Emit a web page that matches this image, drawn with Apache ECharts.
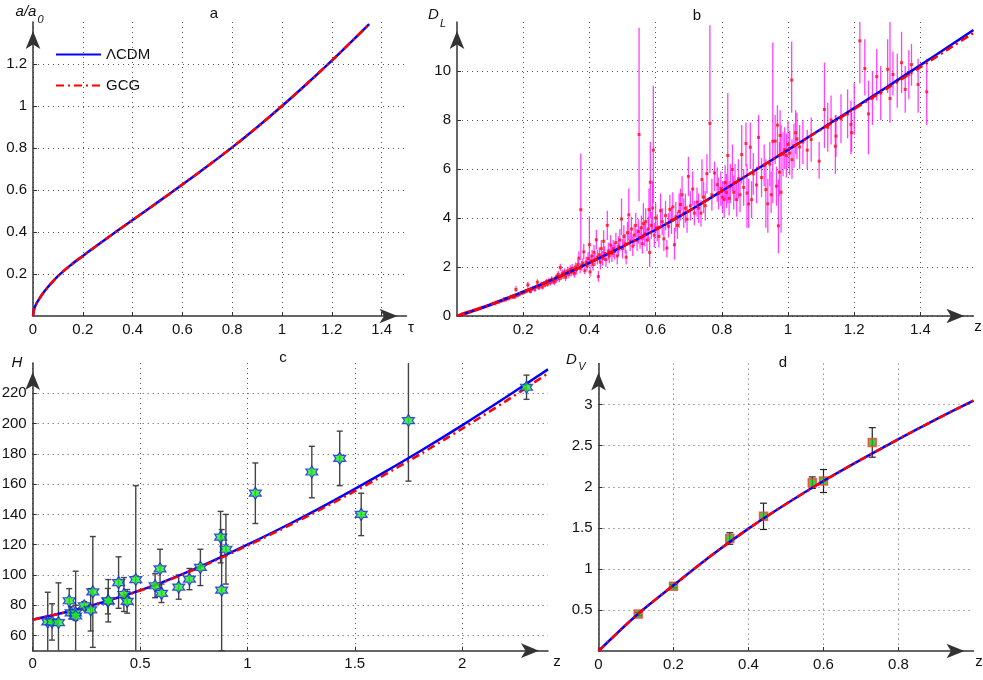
<!DOCTYPE html>
<html>
<head>
<meta charset="utf-8">
<script src="https://cdn.jsdelivr.net/npm/echarts@6/dist/echarts.min.js"></script>
<style>
  html, body { margin: 0; background: #fff; }
  #chart { width: 983px; height: 680px; }
</style>
</head>
<body>
<div id="chart"></div>
<script>
const FONT = '"Liberation Sans", Arial, sans-serif';

// ---- panel a: scale factor a/a0 vs tau
const aTau  = [0, 0.005, 0.01, 0.02, 0.04, 0.06, 0.08, 0.1, 0.15, 0.2, 0.25, 0.3, 0.35, 0.4, 0.5, 0.6, 0.7, 0.8, 0.9, 1.0, 1.1, 1.2, 1.3, 1.35];
const aLcdm = [0, 0.035, 0.05, 0.072, 0.108, 0.138, 0.165, 0.19, 0.241, 0.286, 0.33, 0.373, 0.415, 0.457, 0.541, 0.626, 0.713, 0.803, 0.899, 1.0, 1.106, 1.216, 1.331, 1.39];
const aGcg  = [0, 0.035, 0.05, 0.072, 0.108, 0.138, 0.165, 0.19, 0.241, 0.286, 0.33, 0.373, 0.415, 0.457, 0.541, 0.626, 0.713, 0.803, 0.899, 1.0, 1.106, 1.216, 1.331, 1.39];
const aTicksX = [0, 0.2, 0.4, 0.6, 0.8, 1, 1.2, 1.4];
const aTicksY = [0.2, 0.4, 0.6, 0.8, 1, 1.2];

// ---- panel b: luminosity distance, SN Ia
const bZ    = [0, 0.05, 0.1, 0.2, 0.3, 0.4, 0.5, 0.6, 0.7, 0.8, 0.9, 1.0, 1.1, 1.2, 1.3, 1.4, 1.5, 1.56];
const bLcdm = [0, 0.22, 0.46, 0.99, 1.56, 2.17, 2.83, 3.52, 4.28, 5.1, 5.94, 6.78, 7.63, 8.49, 9.36, 10.24, 11.13, 11.67];
const bGcg  = [0, 0.22, 0.46, 0.99, 1.56, 2.17, 2.83, 3.52, 4.28, 5.1, 5.94, 6.78, 7.61, 8.45, 9.3, 10.16, 11.03, 11.55];
const bTicksX = [0.2, 0.4, 0.6, 0.8, 1, 1.2, 1.4];
const bTicksY = [0, 2, 4, 6, 8, 10];

const snZ = [
  0.012,0.015,0.017,0.019,0.021,0.023,0.025,0.026,0.028,0.030,
  0.032,0.034,0.036,0.038,0.040,0.043,0.046,0.050,0.053,0.056,
  0.060,0.064,0.068,0.072,0.076,0.080,0.085,0.090,0.095,0.100,
  0.105,0.110,0.115,0.120,0.125,0.130,0.135,0.140,0.143,0.147,
  0.150,0.155,0.160,0.165,0.170,0.175,0.178,0.182,0.188,0.195,
  0.200,0.205,0.210,0.214,0.218,0.222,0.226,0.230,0.235,0.240,
  0.243,0.247,0.250,0.255,0.258,0.262,0.266,0.270,0.274,0.278,
  0.282,0.286,0.290,0.294,0.298,0.300,0.303,0.306,0.309,0.312,
  0.315,0.318,0.321,0.325,0.328,0.331,0.335,0.338,0.342,0.345,
  0.348,0.351,0.355,0.358,0.361,0.365,0.368,0.372,0.374,0.377,
  0.380,0.383,0.386,0.390,0.393,0.396,0.400,0.402,0.405,0.408,
  0.411,0.414,0.417,0.421,0.424,0.427,0.430,0.433,0.436,0.440,
  0.443,0.446,0.450,0.454,0.457,0.460,0.464,0.468,0.472,0.476,
  0.480,0.484,0.488,0.492,0.497,0.500,0.504,0.508,0.511,0.515,
  0.519,0.523,0.527,0.531,0.535,0.540,0.544,0.548,0.550,0.553,
  0.557,0.560,0.563,0.567,0.570,0.574,0.578,0.580,0.582,0.584,
  0.587,0.591,0.593,0.596,0.600,0.605,0.610,0.615,0.620,0.625,
  0.630,0.634,0.639,0.643,0.648,0.652,0.657,0.661,0.666,0.671,
  0.675,0.680,0.685,0.690,0.695,0.699,0.705,0.712,0.717,0.725,
  0.730,0.737,0.740,0.745,0.750,0.755,0.764,0.770,0.778,0.786,
  0.790,0.797,0.802,0.807,0.810,0.814,0.818,0.822,0.826,0.832,
  0.836,0.840,0.845,0.850,0.855,0.860,0.866,0.873,0.876,0.881,
  0.886,0.890,0.895,0.905,0.911,0.920,0.928,0.933,0.939,0.945,
  0.949,0.954,0.961,0.965,0.968,0.971,0.974,0.976,0.979,0.985,
  0.990,0.995,1.000,1.005,1.011,1.012,1.018,1.023,1.027,1.035,
  1.045,1.058,1.070,1.094,1.110,1.120,1.130,1.143,1.145,1.160,
  1.180,1.190,1.192,1.200,1.217,1.232,1.243,1.255,1.268,1.280,
  1.301,1.308,1.317,1.330,1.343,1.354,1.365,1.373,1.393,1.419
];
const snD = [
  0.05,0.07,0.075,0.085,0.09,0.10,0.115,0.11,0.125,0.13,
  0.145,0.15,0.16,0.165,0.18,0.19,0.205,0.225,0.24,0.245,
  0.27,0.285,0.30,0.33,0.34,0.36,0.38,0.40,0.43,0.45,
  0.48,0.52,0.50,0.57,0.56,0.60,0.62,0.64,0.70,0.66,
  0.72,0.70,0.74,0.80,0.76,0.78,1.08,0.83,0.87,0.93,
  0.95,0.98,1.02,1.27,1.05,1.00,1.10,1.14,1.08,1.20,
  1.38,1.15,1.22,1.30,1.18,1.33,1.26,1.40,1.30,1.45,
  1.36,1.50,1.42,1.38,1.55,1.48,1.62,1.70,1.52,1.98,
  1.60,1.75,1.66,1.80,1.58,1.72,1.85,1.70,1.90,1.78,
  1.95,1.82,1.74,2.00,1.88,2.10,2.36,1.95,4.34,2.05,
  2.15,2.62,1.85,2.20,2.05,2.35,2.91,1.80,2.25,2.45,
  2.10,2.60,2.30,3.11,2.40,1.61,2.50,2.20,2.75,2.35,
  3.05,2.55,2.30,3.70,2.65,2.45,2.90,2.55,2.75,2.63,
  3.00,2.45,2.85,3.10,3.96,2.75,3.25,2.95,2.40,3.40,
  4.13,3.05,3.55,2.85,3.30,3.70,3.10,3.45,7.41,3.20,
  3.60,2.95,3.77,3.35,3.85,3.10,3.55,4.34,2.59,5.46,
  3.70,4.41,6.77,3.30,4.00,3.60,3.25,4.30,3.85,3.15,
  4.10,2.77,3.66,4.35,3.90,4.45,2.91,4.05,3.70,4.27,
  4.55,4.95,4.20,4.40,3.95,5.70,4.50,5.18,4.20,4.65,
  4.40,4.20,5.57,4.85,4.50,5.81,7.86,4.95,5.84,5.36,
  5.00,5.20,4.85,4.75,5.45,5.05,6.55,4.80,5.30,5.98,
  5.05,5.45,4.75,5.60,4.95,6.59,5.25,7.04,5.02,4.57,
  6.89,4.75,5.80,5.35,7.29,5.65,6.15,5.16,4.58,6.20,
  4.95,7.13,7.14,5.30,7.79,3.68,5.87,7.37,5.05,6.60,
  6.79,6.55,7.00,6.65,9.63,6.38,6.95,7.48,7.23,6.90,
  7.10,6.77,7.20,6.32,8.43,7.70,8.00,6.93,7.34,8.05,
  8.25,7.82,7.48,8.45,11.23,10.10,8.25,8.90,9.77,9.10,
  10.07,8.88,9.86,9.60,10.34,9.25,9.85,10.26,9.45,9.15
];
const snErrDn = [
  .01,.01,.01,.01,.01,.01,.01,.01,.01,.01,
  .01,.01,.02,.02,.02,.02,.02,.02,.02,.02,
  .02,.02,.02,.03,.03,.03,.03,.03,.03,.03,
  .04,.04,.04,.04,.04,.05,.05,.05,.05,.05,
  .05,.05,.05,.06,.06,.06,.10,.06,.06,.07,
  .07,.07,.08,.12,.08,.08,.08,.09,.09,.09,
  .12,.09,.10,.10,.10,.10,.10,.11,.11,.11,
  .12,.12,.12,.12,.13,.13,.13,.14,.14,.14,
  .14,.15,.15,.15,.15,.16,.16,.16,.17,.17,
  .17,.18,.18,.18,.19,.20,.25,.20,2.04,.20,
  .20,.30,.15,.22,.22,.25,.89,.20,.25,.25,
  .25,.30,.25,.40,.30,.21,.30,.30,.35,.30,
  .45,.30,.30,.60,.35,.30,.40,.35,.35,.33,
  .40,.35,.40,.45,.66,.40,.45,.40,.30,.45,
  1.03,.40,.50,.40,.45,.50,.45,.50,2.73,.45,
  .50,.40,.67,.50,.55,.45,.50,.74,.59,1.46,
  .55,.91,2.17,.50,.60,.55,.45,.60,.55,.50,
  .60,.37,.46,.60,.55,.60,.61,.60,.55,.67,
  .65,.65,.60,.60,.55,.80,.60,.68,.50,.60,
  .60,.55,.77,.65,.60,.81,2.02,.65,.74,.70,
  .65,.70,.65,.75,.70,.65,1.95,.70,.70,.88,
  .70,.75,.70,.80,.70,1.19,.75,.94,1.42,.97,
  .89,.75,.85,.75,1.29,.80,.85,1.56,1.18,.90,
  .75,2.53,.94,.80,1.29,1.12,.97,.87,1.65,.90,
  .79,.90,.95,.90,1.33,.78,.90,.88,.83,.90,
  .90,.77,.90,.72,1.57,1.0,1.0,1.13,.84,1.0,
  1.0,1.22,.78,1.05,1.73,1.1,1.65,1.1,.97,1.1,
  .97,.99,.86,1.1,1.24,.95,1.0,.86,1.15,1.35
];
const snErrUp = [
  .01,.01,.01,.01,.01,.01,.01,.01,.01,.01,
  .01,.01,.02,.02,.02,.02,.02,.02,.02,.02,
  .02,.02,.02,.03,.03,.03,.03,.03,.03,.03,
  .04,.04,.04,.04,.04,.05,.05,.05,.05,.05,
  .05,.05,.05,.06,.06,.06,.14,.06,.06,.07,
  .07,.07,.08,.13,.08,.08,.08,.09,.09,.09,
  .12,.09,.10,.10,.10,.10,.10,.11,.11,.11,
  .12,.12,.12,.12,.13,.13,.13,.14,.14,.15,
  .14,.15,.15,.15,.15,.16,.16,.16,.17,.17,
  .17,.18,.18,.18,.19,.20,.27,.20,2.29,.20,
  .20,.33,.15,.22,.22,.25,1.16,.20,.25,.25,
  .25,.30,.25,.40,.30,.24,.30,.30,.35,.30,
  .45,.30,.30,.60,.35,.30,.40,.35,.35,.37,
  .40,.35,.40,.45,.84,.40,.45,.40,.30,.45,
  1.07,.40,.50,.40,.45,.50,.45,.50,4.36,.45,
  .50,.40,.83,.50,.55,.45,.50,.86,.61,1.64,
  .55,1.09,2.63,.50,.60,.55,.45,.70,.55,.50,
  .60,.33,.54,.60,.55,.60,.69,.60,.55,.73,
  .65,.75,.60,.60,.55,.80,.60,.72,.50,.60,
  .60,.55,.83,.65,.60,.79,4.01,.65,.46,.70,
  .65,.70,.65,.75,.70,.75,2.55,.70,.90,1.02,
  .70,.75,.70,.80,.70,1.21,.75,.86,1.18,1.03,
  1.01,.75,.85,.75,.91,.80,.85,1.24,1.02,.90,
  .95,4.03,1.06,.80,.81,1.89,1.23,1.03,2.75,.90,
  .91,.90,.95,.90,1.57,.82,.90,.92,1.07,.90,
  .90,.83,.90,.78,1.91,1.0,1.0,1.27,.86,1.0,
  1.0,.98,.82,1.05,.77,1.2,1.35,1.1,1.13,1.1,
  1.23,3.12,.94,1.1,1.26,.95,1.0,.84,1.05,1.35
];

// ---- panel c: Hubble parameter H(z)
const cZ    = [0, 0.2, 0.4, 0.6, 0.8, 1.0, 1.2, 1.4, 1.6, 1.8, 2.0, 2.2, 2.4];
const cLcdm = [70.5, 77, 85.2, 95, 106.8, 120, 134, 149, 164.8, 181.4, 198.8, 217, 235.8];
const cGcg  = [70.5, 77, 85.1, 94.8, 106.4, 119.4, 133.1, 147.7, 163.1, 179.4, 196.6, 214.5, 233.2];
const hzZ   = [0.07, 0.09, 0.12, 0.17, 0.179, 0.199, 0.2, 0.24, 0.27, 0.28, 0.35, 0.352, 0.4, 0.4247, 0.44, 0.48,
               0.57, 0.593, 0.6, 0.68, 0.73, 0.781, 0.875, 0.88, 0.9, 1.037, 1.3, 1.43, 1.53, 1.75, 2.3];
const hzH   = [69, 69, 68.6, 83, 75, 75, 72.9, 79.7, 77, 88.8, 82.7, 83, 95, 87.1, 82.6, 97,
               92.9, 104, 87.9, 92, 97.3, 105, 125, 90, 117, 154, 168, 177, 140, 202, 224];
const hzErr = [19.6, 12, 26.2, 8, 4, 5, 29.6, 2.7, 14, 36.6, 8.4, 14, 17, 11.2, 7.8, 62,
               7.9, 13, 6.1, 8, 7, 12, 17, 40, 23, 20, 17, 18, 14, 40, 8];
const cTicksX = [0, 0.5, 1, 1.5, 2];
const cTicksY = [60, 80, 100, 120, 140, 160, 180, 200, 220];

// ---- panel d: BAO D_V(z)
const dZ    = [0, 0.1, 0.2, 0.3, 0.4, 0.5, 0.6, 0.7, 0.8, 0.9, 1.0];
const dLcdm = [0, 0.43, 0.8, 1.16, 1.49, 1.79, 2.07, 2.33, 2.58, 2.82, 3.05];
const dGcg  = [0, 0.43, 0.8, 1.16, 1.49, 1.79, 2.07, 2.33, 2.58, 2.82, 3.05];
const baoZ   = [0.106, 0.2, 0.35, 0.44, 0.57, 0.6, 0.73];
const baoDv  = [0.45, 0.79, 1.37, 1.64, 2.05, 2.07, 2.54];
const baoErr = [0.02, 0.02, 0.07, 0.16, 0.07, 0.14, 0.18];
const dTicksX = [0, 0.2, 0.4, 0.6, 0.8];
const dTicksY = [0.5, 1, 1.5, 2, 2.5, 3];

const pairs = (xs, ys) => xs.map((x, i) => [x, ys[i]]);

function valueAxis(gridIndex, min, max, ticks) {
  return {
    type: 'value', gridIndex, min, max,
    axisLine: {
      show: true, onZero: false,
      lineStyle: { color: '#333', width: 1.5 },
      symbol: ['none', 'arrow'], symbolSize: [11, 18], symbolOffset: [0, -9]
    },
    axisTick: { show: true, inside: true, length: 4, customValues: ticks, lineStyle: { color: '#333' } },
    axisLabel: { customValues: ticks, color: '#111', fontSize: 15, fontFamily: FONT, margin: 6 },
    splitLine: { show: true, lineStyle: { color: '#555', type: [1, 4], width: 1 } }
  };
}

function curves(idx, xs, lcdm, gcg, z0) {
  return [
    {
      name: 'ΛCDM', type: 'line', xAxisIndex: idx, yAxisIndex: idx,
      data: pairs(xs, lcdm), symbol: 'none', smooth: 0.3,
      lineStyle: { color: '#0000ff', width: 2.5 }, itemStyle: { color: '#0000ff' }, z: z0
    },
    {
      name: 'GCG', type: 'line', xAxisIndex: idx, yAxisIndex: idx,
      data: pairs(xs, gcg), symbol: 'none', smooth: 0.3,
      lineStyle: { color: '#ff0000', width: 2.5, type: [8, 4, 2, 4] }, itemStyle: { color: '#ff0000' }, z: z0 + 1
    }
  ];
}

function errorBars(color, width, cap, yMin, yMax, opacity) {
  return function (params, api) {
    const x = api.value(0);
    let lo = api.value(1), hi = api.value(2);
    const capLo = lo >= yMin, capHi = hi <= yMax;
    lo = Math.max(lo, yMin); hi = Math.min(hi, yMax);
    const a = api.coord([x, lo]), b = api.coord([x, hi]);
    const style = { stroke: color, lineWidth: width, opacity };
    const kids = [{ type: 'line', shape: { x1: a[0], y1: a[1], x2: b[0], y2: b[1] }, style }];
    if (cap) {
      if (capLo) kids.push({ type: 'line', shape: { x1: a[0] - cap, y1: a[1], x2: a[0] + cap, y2: a[1] }, style });
      if (capHi) kids.push({ type: 'line', shape: { x1: b[0] - cap, y1: b[1], x2: b[0] + cap, y2: b[1] }, style });
    }
    return { type: 'group', children: kids };
  };
}

const HEXAGRAM = 'path://M0,-10L2.887,-5L8.66,-5L5.774,0L8.66,5L2.887,5L0,10L-2.887,5L-8.66,5L-5.774,0L-8.66,-5L-2.887,-5Z';

function label(text, x, y, size, italic) {
  return {
    type: 'text', x, y, silent: true,
    style: { text, font: (italic ? 'italic ' : '') + size + 'px ' + FONT, fill: '#111', align: 'center', verticalAlign: 'middle' }
  };
}

const chart = echarts.init(document.getElementById('chart'), null, { renderer: 'canvas' });
chart.setOption({
  backgroundColor: '#fff',
  animation: false,
  textStyle: { fontFamily: FONT },
  grid: [
    { left: 33, top: 22, width: 373.5, height: 294, outerBoundsMode: 'none' },
    { left: 457, top: 22, width: 516.4, height: 294, outerBoundsMode: 'none' },
    { left: 32.7, top: 363, width: 515.3, height: 287.7, outerBoundsMode: 'none' },
    { left: 598.5, top: 363.6, width: 375, height: 287.4, outerBoundsMode: 'none' }
  ],
  xAxis: [
    valueAxis(0, 0, 1.5, aTicksX),
    valueAxis(1, 0, 1.56, bTicksX),
    valueAxis(2, 0, 2.4, cTicksX),
    valueAxis(3, 0, 1.0, dTicksX)
  ],
  yAxis: [
    valueAxis(0, 0, 1.4, aTicksY),
    valueAxis(1, 0, 12, bTicksY),
    valueAxis(2, 50, 240, cTicksY),
    valueAxis(3, 0, 3.5, dTicksY)
  ],
  legend: {
    data: ['ΛCDM', 'GCG'], orient: 'vertical', left: 50, top: 42,
    itemWidth: 45, itemHeight: 14, itemGap: 16, selectedMode: false,
    itemStyle: { opacity: 0 },
    textStyle: { fontSize: 15, color: '#111', fontFamily: FONT }
  },
  graphic: [
    label('a', 214, 14, 15), label('b', 697, 16, 15), label('c', 283, 358, 15), label('d', 783, 363, 15),
    label('a/a', 26, 12, 15, true), label('0', 40.5, 20, 11, true),
    label('τ', 411, 328, 15),
    label('D', 433.5, 15, 15, true), label('L', 443, 23.5, 11, true),
    label('z', 978, 327, 15),
    label('H', 17, 363, 15, true),
    label('z', 557, 662, 15),
    label('D', 571.5, 359.5, 15, true), label('V', 582, 367, 11, true),
    label('z', 979, 662, 15)
  ],
  series: [
    ...curves(0, aTau, aLcdm, aGcg, 5),

    {
      type: 'custom', xAxisIndex: 1, yAxisIndex: 1, silent: true, z: 2,
      renderItem: errorBars('#ff00ff', 1.3, 0, 0, 12, 0.75),
      encode: { x: 0, y: [1, 2] },
      data: snZ.map((z, i) => [z, snD[i] - snErrDn[i], snD[i] + snErrUp[i]])
    },
    {
      type: 'scatter', xAxisIndex: 1, yAxisIndex: 1, silent: true, z: 3,
      data: pairs(snZ, snD), symbol: 'rect', symbolSize: 3,
      itemStyle: { color: '#ff1010' }
    },
    ...curves(1, bZ, bLcdm, bGcg, 5),

    {
      type: 'custom', xAxisIndex: 2, yAxisIndex: 2, silent: true, z: 2,
      renderItem: errorBars('#444', 1.4, 3, 50, 240, 1),
      encode: { x: 0, y: [1, 2] },
      data: hzZ.map((z, i) => [z, hzH[i] - hzErr[i], hzH[i] + hzErr[i]])
    },
    ...curves(2, cZ, cLcdm, cGcg, 5),
    {
      type: 'scatter', xAxisIndex: 2, yAxisIndex: 2, silent: true, z: 8,
      data: pairs(hzZ, hzH), symbol: HEXAGRAM, symbolSize: 12,
      itemStyle: { color: '#1aef1a', borderColor: '#1a1aff', borderWidth: 1.2 }
    },

    {
      type: 'custom', xAxisIndex: 3, yAxisIndex: 3, silent: true, z: 2,
      renderItem: errorBars('#222', 1.2, 3.5, 0, 3.5, 1),
      encode: { x: 0, y: [1, 2] },
      data: baoZ.map((z, i) => [z, baoDv[i] - baoErr[i], baoDv[i] + baoErr[i]])
    },
    {
      type: 'scatter', xAxisIndex: 3, yAxisIndex: 3, silent: true, z: 3,
      data: pairs(baoZ, baoDv), symbol: 'rect', symbolSize: 8,
      itemStyle: { color: '#13c013', borderColor: '#ff3a3a', borderWidth: 1.5 }
    },
    ...curves(3, dZ, dLcdm, dGcg, 5)
  ]
});
window.addEventListener('resize', () => { chart.resize(); });
</script>
</body>
</html>
